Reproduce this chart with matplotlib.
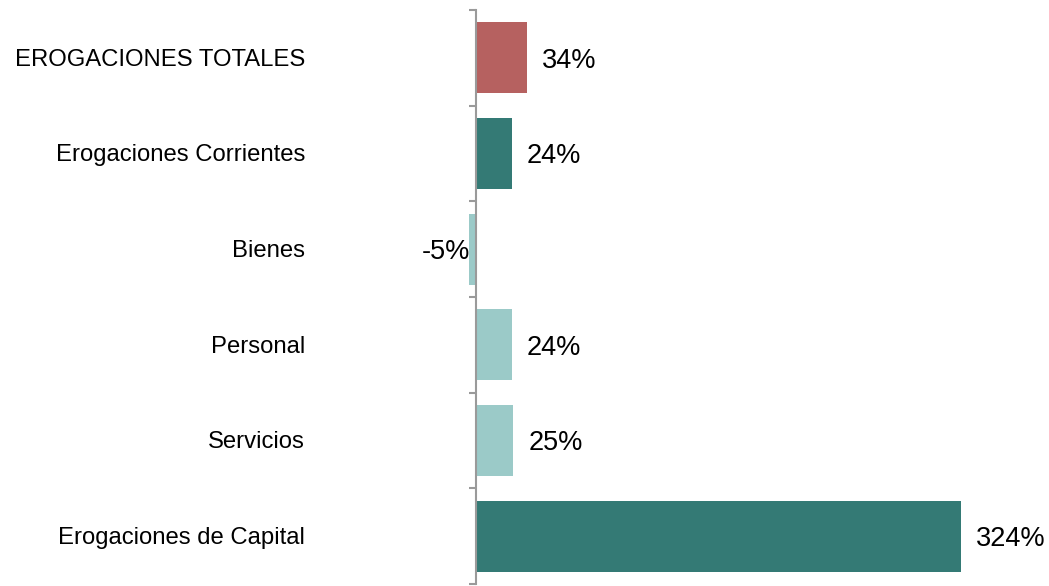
import matplotlib
matplotlib.use("Agg")
import matplotlib.pyplot as plt
import matplotlib.transforms as mtransforms

categories = ["EROGACIONES TOTALES", "Erogaciones Corrientes", "Bienes",
              "Personal", "Servicios", "Erogaciones de Capital"]
values = [34, 24, -5, 24, 25, 324]
labels = ["34%", "24%", "-5%", "24%", "25%", "324%"]
colors = ["#B66160", "#347A75", "#9BCAC8", "#9BCAC8", "#9BCAC8", "#347A75"]

plt.rcParams['font.family'] = ['Liberation Sans', 'DejaVu Sans']

W, H = 1049, 586
fig = plt.figure(figsize=(W / 100, H / 100), dpi=100)
ax = fig.add_axes([440 / W, 2 / H, 600 / W, 574 / H])

n = len(categories)
ypos = list(range(n))
ax.barh(ypos, values, height=0.74, color=colors, zorder=2)
ax.set_ylim(n - 0.5, -0.5)
ax.set_xlim(-24.05, 376.8)

for s in ['top', 'right', 'bottom']:
    ax.spines[s].set_visible(False)
ax.spines['left'].set_position(('data', 0))
ax.spines['left'].set_color('#9A9A9A')
ax.spines['left'].set_linewidth(1.5)
ax.spines['left'].set_zorder(3)
ax.set_xticks([])
ax.set_yticks([i - 0.5 for i in range(n + 1)])
ax.set_yticklabels([])
ax.tick_params(axis='y', direction='out', length=5, width=1.5, color='#9A9A9A')

trans = mtransforms.blended_transform_factory(fig.transFigure, ax.transData)
for y, c in zip(ypos, categories):
    ax.text(305 / W, y + 0.02, c, transform=trans, ha='right', va='center', fontsize=17.2, color='#000000')

off = 10  # data units (~15 px)
for y, v, lab in zip(ypos, values, labels):
    if v >= 0:
        ax.text(v + off, y + 0.03, lab, ha='left', va='center', fontsize=19.5, color='#000000')
    else:
        ax.text(v + 0.8, y + 0.03, lab, ha='right', va='center', fontsize=19.5, color='#000000')

fig.savefig("out.png", dpi=100)
